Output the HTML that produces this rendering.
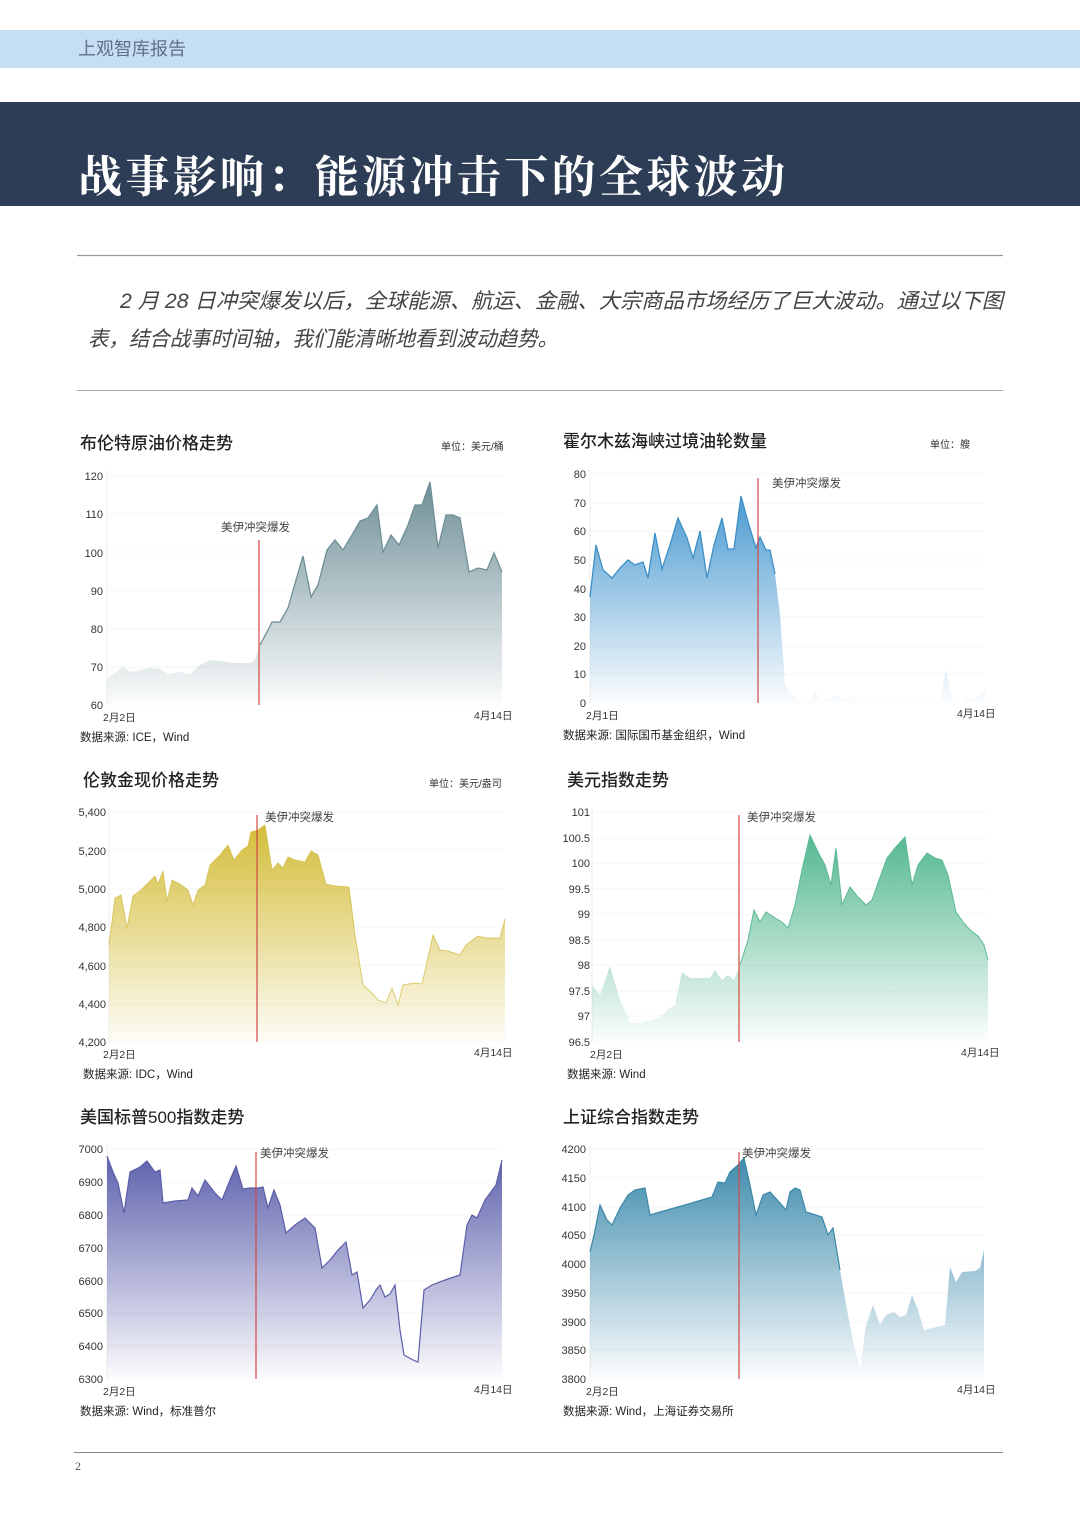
<!DOCTYPE html>
<html><head><meta charset="utf-8">
<style>
html,body{margin:0;padding:0;background:#fff;}
svg{display:block;}
text{font-family:"Liberation Sans","Noto Sans CJK SC",sans-serif;}
.t{font-size:17px;fill:#222;font-weight:500;}
.u{font-size:10px;fill:#333;}
.k{font-size:11px;fill:#333;text-anchor:end;}
.d{font-size:10.5px;fill:#333;}
.s{font-size:11.5px;fill:#222;}
.e{font-size:11.5px;fill:#444;}
.g{stroke:#f5f5f5;stroke-width:1;}
</style></head><body>
<svg width="1080" height="1527" viewBox="0 0 1080 1527" xmlns="http://www.w3.org/2000/svg">
<defs>
<linearGradient id="g1" x1="0" y1="0" x2="0" y2="1"><stop offset="0" stop-color="#6f8f97"/><stop offset="1" stop-color="#6f8f97" stop-opacity="0.02"/></linearGradient>
<linearGradient id="g2" x1="0" y1="0" x2="0" y2="1"><stop offset="0" stop-color="#4a9ad0"/><stop offset="1" stop-color="#4a9ad0" stop-opacity="0.02"/></linearGradient>
<linearGradient id="g3" x1="0" y1="0" x2="0" y2="1"><stop offset="0" stop-color="#d4bd3a"/><stop offset="1" stop-color="#d4bd3a" stop-opacity="0.04"/></linearGradient>
<linearGradient id="g4" x1="0" y1="0" x2="0" y2="1"><stop offset="0" stop-color="#55b890"/><stop offset="1" stop-color="#55b890" stop-opacity="0.02"/></linearGradient>
<linearGradient id="g5" x1="0" y1="0" x2="0" y2="1"><stop offset="0" stop-color="#5f62ad"/><stop offset="1" stop-color="#5f62ad" stop-opacity="0.02"/></linearGradient>
<linearGradient id="g6" x1="0" y1="0" x2="0" y2="1"><stop offset="0" stop-color="#3f8cad"/><stop offset="1" stop-color="#3f8cad" stop-opacity="0.02"/></linearGradient>
</defs>
<rect x="0" y="30" width="1080" height="38" fill="#c6def2"/>
<text x="78" y="55" style="font-size:18px;fill:#5d7188;">上观智库报告</text>
<rect x="0" y="102" width="1080" height="104" fill="#2d3d55"/>
<text x="78" y="192" textLength="707" lengthAdjust="spacing" style="font-family:'Noto Serif CJK SC',serif;font-size:44px;font-weight:bold;fill:#fff;">战事影响：能源冲击下的全球波动</text>
<line x1="77" y1="255.5" x2="1003" y2="255.5" stroke="#999" stroke-width="1.2"/>
<text x="120" y="308" textLength="883" lengthAdjust="spacingAndGlyphs" style="font-size:21px;font-style:italic;fill:#444;">2 月 28 日冲突爆发以后，全球能源、航运、金融、大宗商品市场经历了巨大波动。通过以下图</text>
<text x="88" y="346" textLength="470" lengthAdjust="spacingAndGlyphs" style="font-size:21px;font-style:italic;fill:#444;">表，结合战事时间轴，我们能清晰地看到波动趋势。</text>
<line x1="77" y1="390.5" x2="1003" y2="390.5" stroke="#aaa" stroke-width="1"/>

<!-- Chart 1 -->
<text class="t" x="80" y="449">布伦特原油价格走势</text>
<text class="u" x="441" y="450">单位：美元/桶</text>
<g class="g"><line x1="107" y1="476" x2="502" y2="476"/><line x1="107" y1="514" x2="502" y2="514"/><line x1="107" y1="552" x2="502" y2="552"/><line x1="107" y1="590" x2="502" y2="590"/><line x1="107" y1="629" x2="502" y2="629"/><line x1="107" y1="667" x2="502" y2="667"/></g>
<line x1="107" y1="470" x2="107" y2="705" stroke="#eee"/>
<text class="k" x="103" y="480">120</text><text class="k" x="103" y="518">110</text><text class="k" x="103" y="557">100</text><text class="k" x="103" y="595">90</text><text class="k" x="103" y="633">80</text><text class="k" x="103" y="671">70</text><text class="k" x="103" y="709">60</text>
<path d="M107,678 L115,673 123,667 130,672 140,670 150,668 160,669 168,674 180,672 190,674 200,665 210,660 220,661 235,663 250,663 255,660 260,645 268,630 272,622 280,622 288,608 296,580 303,556 311,597 318,585 327,550 335,540 343,550 352,535 360,521 368,518 377,505 383,552 391,535 399,545 408,525 415,505 422,505 430,482 438,548 446,515 453,515 460,518 469,572 478,568 487,570 494,553 502,572 L502,705 107,705Z" fill="url(#g1)"/>
<path d="M260,645 L268,630 272,622 280,622 288,608 296,580 303,556 311,597 318,585 327,550 335,540 343,550 352,535 360,521 368,518 377,505 383,552 391,535 399,545 408,525 415,505 422,505 430,482 438,548 446,515 453,515 460,518 469,572 478,568 487,570 494,553 502,572" fill="none" stroke="#6f8f97" stroke-width="1.3"/>
<line x1="259" y1="705" x2="259" y2="540" stroke="#d04848" stroke-width="1.2"/>
<text class="e" x="221" y="531">美伊冲突爆发</text>
<text class="d" x="103" y="721">2月2日</text><text class="d" x="474" y="719">4月14日</text>
<text class="s" x="80" y="741">数据来源: ICE，Wind</text>

<!-- Chart 2 -->
<text class="t" x="563" y="447">霍尔木兹海峡过境油轮数量</text>
<text class="u" x="930" y="448">单位：艘</text>
<g class="g"><line x1="590" y1="474" x2="985" y2="474"/><line x1="590" y1="503" x2="985" y2="503"/><line x1="590" y1="531" x2="985" y2="531"/><line x1="590" y1="560" x2="985" y2="560"/><line x1="590" y1="589" x2="985" y2="589"/><line x1="590" y1="617" x2="985" y2="617"/><line x1="590" y1="646" x2="985" y2="646"/><line x1="590" y1="674" x2="985" y2="674"/></g>
<line x1="590" y1="470" x2="590" y2="703" stroke="#eee"/>
<text class="k" x="586" y="478">80</text><text class="k" x="586" y="507">70</text><text class="k" x="586" y="535">60</text><text class="k" x="586" y="564">50</text><text class="k" x="586" y="593">40</text><text class="k" x="586" y="621">30</text><text class="k" x="586" y="650">20</text><text class="k" x="586" y="678">10</text><text class="k" x="586" y="707">0</text>
<path d="M590,597 L596,545 603,570 612,578 620,568 628,560 635,565 643,562 648,578 655,533 662,569 670,545 678,518 687,538 693,558 700,531 707,578 714,545 722,518 728,549 734,549 741,496 748,522 756,548 760,537 766,550 770,550 775,574 780,615 785,684 790,693 800,700 810,700 815,690 820,700 830,698 838,696 848,701 853,695 858,701 880,701 890,700 910,700 940,701 946,669 952,700 962,702 968,696 975,700 985,690 L985,703 590,703Z" fill="url(#g2)"/>
<path d="M590,597 L596,545 603,570 612,578 620,568 628,560 635,565 643,562 648,578 655,533 662,569 670,545 678,518 687,538 693,558 700,531 707,578 714,545 722,518 728,549 734,549 741,496 748,522 756,548 760,537 766,550 770,550 775,574" fill="none" stroke="#3d8fc6" stroke-width="1.3"/>
<line x1="758" y1="703" x2="758" y2="478" stroke="#d04848" stroke-width="1.2"/>
<text class="e" x="772" y="487">美伊冲突爆发</text>
<text class="d" x="586" y="719">2月1日</text><text class="d" x="957" y="717">4月14日</text>
<text class="s" x="563" y="739">数据来源: 国际国币基金组织，Wind</text>

<!-- Chart 3 -->
<text class="t" x="83" y="786">伦敦金现价格走势</text>
<text class="u" x="429" y="787">单位：美元/盎司</text>
<g class="g"><line x1="109" y1="812" x2="505" y2="812"/><line x1="109" y1="850" x2="505" y2="850"/><line x1="109" y1="889" x2="505" y2="889"/><line x1="109" y1="927" x2="505" y2="927"/><line x1="109" y1="965" x2="505" y2="965"/><line x1="109" y1="1004" x2="505" y2="1004"/></g>
<line x1="109" y1="808" x2="109" y2="1042" stroke="#eee"/>
<text class="k" x="106" y="816">5,400</text><text class="k" x="106" y="855">5,200</text><text class="k" x="106" y="893">5,000</text><text class="k" x="106" y="931">4,800</text><text class="k" x="106" y="970">4,600</text><text class="k" x="106" y="1008">4,400</text><text class="k" x="106" y="1046">4,200</text>
<path d="M109,945 L115,898 121,895 127,928 133,896 141,890 149,882 155,876 158,884 163,871 167,901 172,880 180,884 188,890 193,905 198,890 205,885 210,865 220,855 228,845 234,860 242,850 248,846 251,832 258,830 265,825 272,870 278,863 283,868 288,857 295,860 305,862 311,851 318,855 326,884 335,886 349,887 355,935 363,985 372,993 378,1000 386,1003 392,988 398,1005 403,985 415,983 422,984 433,935 440,950 448,951 460,955 466,945 478,936 485,938 500,938 505,919 L505,1042 109,1042Z" fill="url(#g3)"/>
<path d="M109,945 L115,898 121,895 127,928 133,896 141,890 149,882 155,876 158,884 163,871 167,901 172,880 180,884 188,890 193,905 198,890 205,885 210,865 220,855 228,845 234,860 242,850 248,846 251,832 258,830 265,825 272,870 278,863 283,868 288,857 295,860 305,862 311,851 318,855 326,884 335,886 349,887 355,935 363,985 372,993 378,1000 386,1003 392,988 398,1005 403,985 415,983 422,984 433,935 440,950 448,951 460,955 466,945 478,936 485,938 500,938 505,919" fill="none" stroke="#cdb93e" stroke-width="1" stroke-opacity="0.7"/>
<line x1="257" y1="1042" x2="257" y2="815" stroke="#d04848" stroke-width="1.2"/>
<text class="e" x="265" y="821">美伊冲突爆发</text>
<text class="d" x="103" y="1058">2月2日</text><text class="d" x="474" y="1056">4月14日</text>
<text class="s" x="83" y="1078">数据来源: IDC，Wind</text>

<!-- Chart 4 -->
<text class="t" x="567" y="786">美元指数走势</text>
<g class="g"><line x1="592" y1="812" x2="988" y2="812"/><line x1="592" y1="838" x2="988" y2="838"/><line x1="592" y1="863" x2="988" y2="863"/><line x1="592" y1="889" x2="988" y2="889"/><line x1="592" y1="914" x2="988" y2="914"/><line x1="592" y1="940" x2="988" y2="940"/><line x1="592" y1="965" x2="988" y2="965"/><line x1="592" y1="991" x2="988" y2="991"/><line x1="592" y1="1016" x2="988" y2="1016"/></g>
<line x1="592" y1="808" x2="592" y2="1042" stroke="#eee"/>
<text class="k" x="590" y="816">101</text><text class="k" x="590" y="842">100.5</text><text class="k" x="590" y="867">100</text><text class="k" x="590" y="893">99.5</text><text class="k" x="590" y="918">99</text><text class="k" x="590" y="944">98.5</text><text class="k" x="590" y="969">98</text><text class="k" x="590" y="995">97.5</text><text class="k" x="590" y="1020">97</text><text class="k" x="590" y="1046">96.5</text>
<path d="M592,985 L600,995 610,966 620,1000 630,1022 640,1023 650,1020 660,1018 667,1010 675,1005 682,972 690,978 700,978 710,978 715,970 722,980 728,975 734,980 740,965 748,940 754,910 760,922 766,912 775,918 782,922 788,928 795,905 802,870 810,835 818,852 825,865 831,885 836,848 842,905 850,887 858,897 866,905 872,900 879,880 887,858 895,848 905,837 912,885 918,865 927,853 935,858 942,860 948,875 956,912 963,922 970,930 978,936 984,945 988,960 L988,1042 592,1042Z" fill="url(#g4)"/>
<path d="M740,965 L748,940 754,910 760,922 766,912 775,918 782,922 788,928 795,905 802,870 810,835 818,852 825,865 831,885 836,848 842,905 850,887 858,897 866,905 872,900 879,880 887,858 895,848 905,837 912,885 918,865 927,853 935,858 942,860 948,875 956,912 963,922 970,930 978,936 984,945 988,960" fill="none" stroke="#5bb995" stroke-width="1"/>
<line x1="739" y1="1042" x2="739" y2="815" stroke="#d04848" stroke-width="1.2"/>
<text class="e" x="747" y="821">美伊冲突爆发</text>
<text class="d" x="590" y="1058">2月2日</text><text class="d" x="961" y="1056">4月14日</text>
<text class="s" x="567" y="1078">数据来源: Wind</text>

<!-- Chart 5 -->
<text class="t" x="80" y="1123">美国标普500指数走势</text>
<g class="g"><line x1="107" y1="1149" x2="502" y2="1149"/><line x1="107" y1="1182" x2="502" y2="1182"/><line x1="107" y1="1215" x2="502" y2="1215"/><line x1="107" y1="1248" x2="502" y2="1248"/><line x1="107" y1="1281" x2="502" y2="1281"/><line x1="107" y1="1313" x2="502" y2="1313"/><line x1="107" y1="1346" x2="502" y2="1346"/></g>
<line x1="107" y1="1145" x2="107" y2="1379" stroke="#eee"/>
<text class="k" x="103" y="1153">7000</text><text class="k" x="103" y="1186">6900</text><text class="k" x="103" y="1219">6800</text><text class="k" x="103" y="1252">6700</text><text class="k" x="103" y="1285">6600</text><text class="k" x="103" y="1317">6500</text><text class="k" x="103" y="1350">6400</text><text class="k" x="103" y="1383">6300</text>
<path d="M107,1156 L113,1172 118,1183 124,1213 130,1172 140,1167 147,1161 155,1172 160,1170 163,1203 175,1201 188,1200 192,1188 198,1196 205,1180 215,1193 222,1200 230,1180 236,1166 243,1189 250,1188 258,1188 263,1187 268,1208 274,1190 280,1205 286,1233 295,1225 305,1218 315,1228 322,1268 330,1260 338,1250 346,1242 352,1275 357,1272 363,1308 370,1300 376,1290 380,1285 385,1297 390,1294 395,1285 400,1330 404,1355 413,1360 418,1362 424,1290 432,1285 445,1280 460,1275 467,1225 472,1215 477,1218 485,1200 496,1185 502,1160 L502,1379 107,1379Z" fill="url(#g5)"/>
<path d="M107,1156 L113,1172 118,1183 124,1213 130,1172 140,1167 147,1161 155,1172 160,1170 163,1203 175,1201 188,1200 192,1188 198,1196 205,1180 215,1193 222,1200 230,1180 236,1166 243,1189 250,1188 258,1188 263,1187 268,1208 274,1190 280,1205 286,1233 295,1225 305,1218 315,1228 322,1268 330,1260 338,1250 346,1242 352,1275 357,1272 363,1308 370,1300 376,1290 380,1285 385,1297 390,1294 395,1285 400,1330 404,1355 413,1360 418,1362 424,1290 432,1285 445,1280 460,1275 467,1225 472,1215 477,1218 485,1200 496,1185 502,1160" fill="none" stroke="#5b5ea8" stroke-width="1.2"/>
<line x1="256" y1="1379" x2="256" y2="1152" stroke="#d04848" stroke-width="1.2"/>
<text class="e" x="260" y="1157">美伊冲突爆发</text>
<text class="d" x="103" y="1395">2月2日</text><text class="d" x="474" y="1393">4月14日</text>
<text class="s" x="80" y="1415">数据来源: Wind，标准普尔</text>

<!-- Chart 6 -->
<text class="t" x="563" y="1123">上证综合指数走势</text>
<g class="g"><line x1="590" y1="1149" x2="984" y2="1149"/><line x1="590" y1="1178" x2="984" y2="1178"/><line x1="590" y1="1207" x2="984" y2="1207"/><line x1="590" y1="1235" x2="984" y2="1235"/><line x1="590" y1="1264" x2="984" y2="1264"/><line x1="590" y1="1293" x2="984" y2="1293"/><line x1="590" y1="1322" x2="984" y2="1322"/><line x1="590" y1="1350" x2="984" y2="1350"/></g>
<line x1="590" y1="1145" x2="590" y2="1379" stroke="#eee"/>
<text class="k" x="586" y="1153">4200</text><text class="k" x="586" y="1182">4150</text><text class="k" x="586" y="1211">4100</text><text class="k" x="586" y="1239">4050</text><text class="k" x="586" y="1268">4000</text><text class="k" x="586" y="1297">3950</text><text class="k" x="586" y="1326">3900</text><text class="k" x="586" y="1354">3850</text><text class="k" x="586" y="1383">3800</text>
<path d="M590,1252 L594,1235 600,1205 607,1220 612,1225 620,1208 628,1195 635,1190 645,1188 650,1215 660,1212 685,1205 712,1197 718,1182 725,1183 730,1172 738,1165 744,1158 750,1185 756,1215 763,1195 770,1192 780,1203 786,1210 790,1192 795,1188 800,1190 806,1212 822,1217 828,1235 833,1228 840,1270 847,1310 854,1345 860,1370 866,1325 873,1305 880,1325 886,1315 894,1312 900,1317 906,1315 912,1295 918,1310 924,1330 945,1325 950,1267 956,1282 962,1272 975,1271 980,1268 984,1250 L984,1379 590,1379Z" fill="url(#g6)"/>
<path d="M590,1252 L594,1235 600,1205 607,1220 612,1225 620,1208 628,1195 635,1190 645,1188 650,1215 660,1212 685,1205 712,1197 718,1182 725,1183 730,1172 738,1165 744,1158 750,1185 756,1215 763,1195 770,1192 780,1203 786,1210 790,1192 795,1188 800,1190 806,1212 822,1217 828,1235 833,1228 840,1270" fill="none" stroke="#3d88a8" stroke-width="1.2"/>
<line x1="739" y1="1379" x2="739" y2="1152" stroke="#d04848" stroke-width="1.2"/>
<text class="e" x="742" y="1157">美伊冲突爆发</text>
<text class="d" x="586" y="1395">2月2日</text><text class="d" x="957" y="1393">4月14日</text>
<text class="s" x="563" y="1415">数据来源: Wind，上海证券交易所</text>

<line x1="74" y1="1452.5" x2="1003" y2="1452.5" stroke="#888" stroke-width="1"/>
<text x="75" y="1470" style="font-family:'Liberation Serif',serif;font-size:12px;fill:#555;">2</text>
</svg>
</body></html>
